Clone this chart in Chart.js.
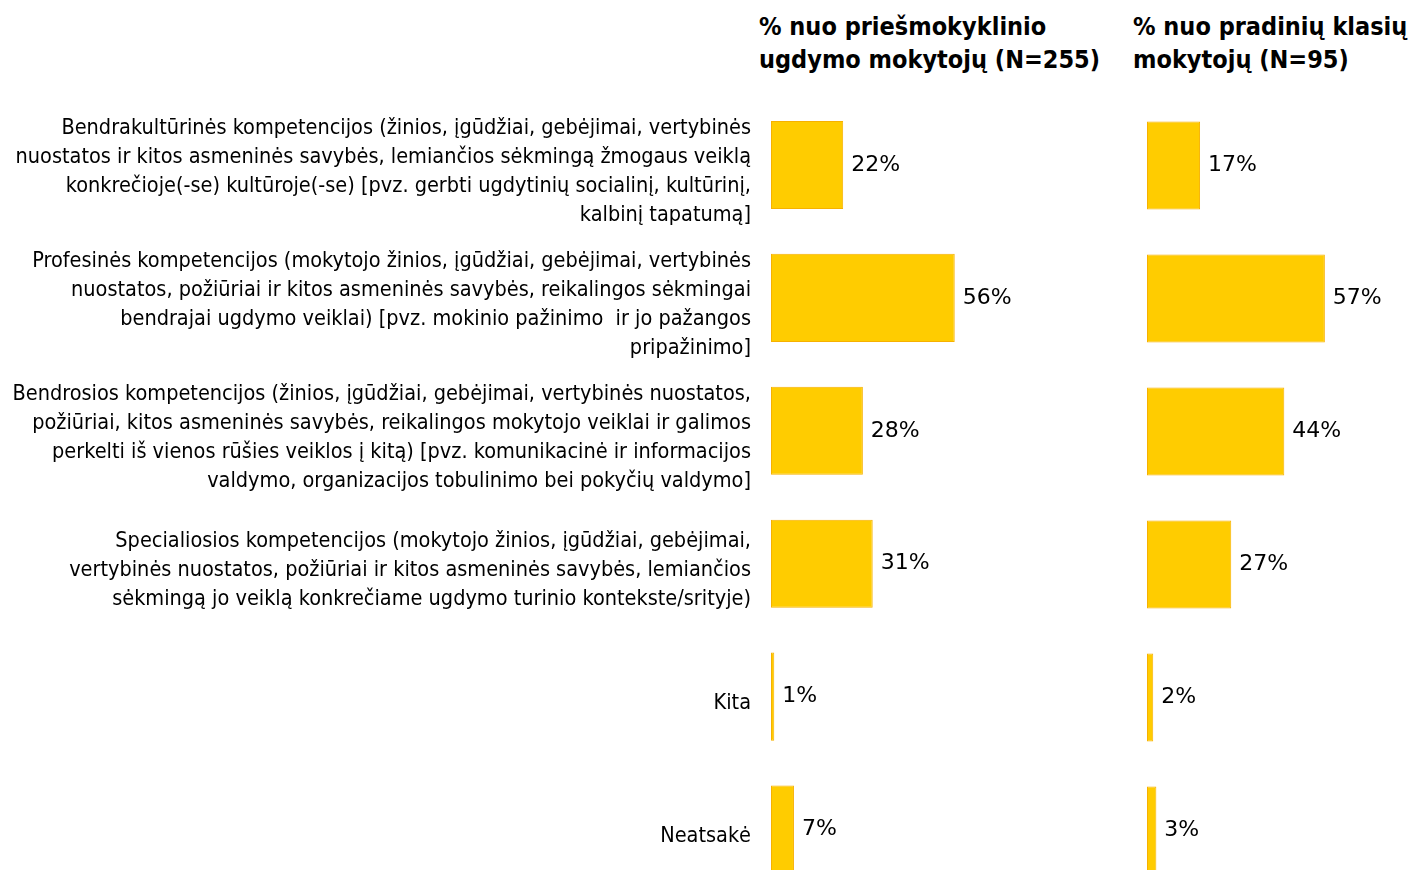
<!DOCTYPE html>
<html><head><meta charset="utf-8">
<script src="https://cdn.jsdelivr.net/npm/chart.js@4"></script>
<style>
html,body{margin:0;padding:0;overflow:hidden;background:#fff;width:1411px;height:870px}
#a{position:absolute;left:0;top:0;width:1147px;height:896px}
#b{position:absolute;left:1147px;top:0;width:264px;height:897px}
.t{position:absolute;font-family:'DejaVu Sans Condensed','DejaVu Sans',sans-serif;font-weight:bold;font-size:25px;line-height:33px;color:#000;white-space:nowrap}
</style></head><body>
<div class="t" id="t1" style="left:759px;top:10px"></div>
<div class="t" id="t2" style="left:1133px;top:10px"></div>
<div id="a"><canvas id="ca"></canvas></div>
<div id="b"><canvas id="cb"></canvas></div>
<script>
const categories = [
  ["Bendrakultūrinės kompetencijos (žinios, įgūdžiai, gebėjimai, vertybinės",
   "nuostatos ir kitos asmeninės savybės, lemiančios sėkmingą žmogaus veiklą",
   "konkrečioje(-se) kultūroje(-se) [pvz. gerbti ugdytinių socialinį, kultūrinį,",
   "kalbinį tapatumą]"],
  ["Profesinės kompetencijos (mokytojo žinios, įgūdžiai, gebėjimai, vertybinės",
   "nuostatos, požiūriai ir kitos asmeninės savybės, reikalingos sėkmingai",
   "bendrajai ugdymo veiklai) [pvz. mokinio pažinimo  ir jo pažangos",
   "pripažinimo]"],
  ["Bendrosios kompetencijos (žinios, įgūdžiai, gebėjimai, vertybinės nuostatos,",
   "požiūriai, kitos asmeninės savybės, reikalingos mokytojo veiklai ir galimos",
   "perkelti iš vienos rūšies veiklos į kitą) [pvz. komunikacinė ir informacijos",
   "valdymo, organizacijos tobulinimo bei pokyčių valdymo]"],
  ["Specialiosios kompetencijos (mokytojo žinios, įgūdžiai, gebėjimai,",
   "vertybinės nuostatos, požiūriai ir kitos asmeninės savybės, lemiančios",
   "sėkmingą jo veiklą konkrečiame ugdymo turinio kontekste/srityje)"],
  "Kita",
  "Neatsakė"
];
const preschoolValues = [22, 56, 28, 31, 1, 7];
const primaryValues = [17, 57, 44, 27, 2, 3];
const preschoolTitle = ["% nuo priešmokyklinio", "ugdymo mokytojų (N=255)"];
const primaryTitle = ["% nuo pradinių klasių", "mokytojų (N=95)"];

document.getElementById('t1').innerHTML = preschoolTitle.join('<br>');
document.getElementById('t2').innerHTML = primaryTitle.join('<br>');

const FILL = '#FFCC00', BORDER = '#F7B100';

const valueLabels = {
  id: 'valueLabels',
  afterDatasetsDraw(chart) {
    const ctx = chart.ctx;
    ctx.save();
    ctx.font = '22px "DejaVu Sans", sans-serif';
    ctx.fillStyle = '#000';
    ctx.textBaseline = 'middle';
    ctx.textAlign = 'left';
    const ds = chart.data.datasets[0];
    chart.getDatasetMeta(0).data.forEach((bar, i) => {
      ctx.fillText(ds.data[i] + '%', bar.x + 8, bar.y);
    });
    ctx.restore();
  }
};

function makeChart(id, values, xmax, showLabels, padTop) {
  return new Chart(document.getElementById(id), {
    type: 'bar',
    data: {
      labels: categories,
      datasets: [{
        data: values,
        backgroundColor: FILL,
        borderColor: BORDER,
        borderWidth: 1,
        borderSkipped: false,
        barPercentage: 0.663,
        categoryPercentage: 1
      }]
    },
    options: {
      indexAxis: 'y',
      responsive: true,
      maintainAspectRatio: false,
      animation: false,
      layout: { padding: { top: padTop, bottom: 0, left: 0, right: 0 } },
      plugins: { legend: { display: false }, tooltip: { enabled: false }, title: { display: false } },
      scales: {
        x: { display: false, min: 0, max: xmax },
        y: {
          display: showLabels,
          grid: { display: false, drawTicks: false },
          border: { display: false },
          ticks: {
            color: '#000',
            padding: 20,
            labelOffset: 7,
            autoSkip: false,
            font: { family: "'DejaVu Sans Condensed', 'DejaVu Sans', sans-serif", size: 21.5, lineHeight: '29px' }
          },
          afterFit(scale) {
            if (showLabels) scale.width = 771;
            scale.paddingTop = 0;
            scale.paddingBottom = 0;
          }
        }
      }
    },
    plugins: [valueLabels]
  });
}

makeChart('ca', preschoolValues, 114.6, true, 98.5);
makeChart('cb', primaryValues, 84.6, false, 99);
</script>
</body></html>
